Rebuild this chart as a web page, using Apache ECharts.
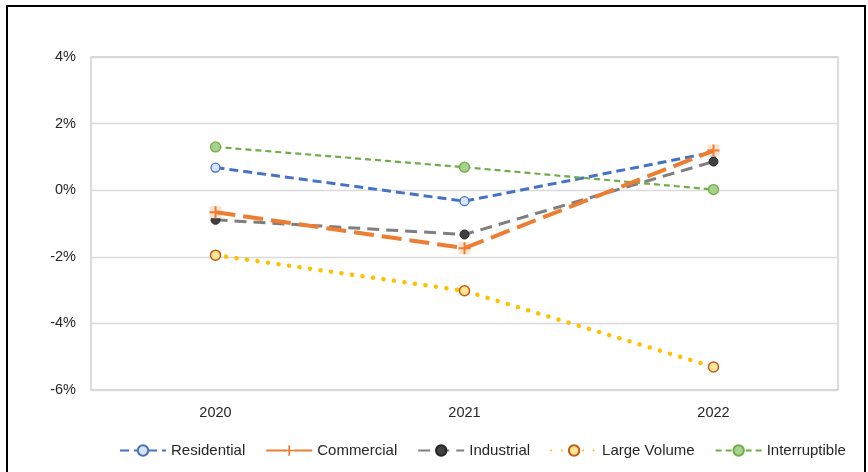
<!DOCTYPE html>
<html>
<head>
<meta charset="utf-8">
<script src="https://cdn.jsdelivr.net/npm/echarts@6/dist/echarts.min.js"></script>
<style>html,body{margin:0;padding:0;background:#fff}#c{width:868px;height:472px}</style>
</head>
<body>
<div id="c"></div>
<script>
var years = ['2020', '2021', '2022'];
var residential = [0.68, -0.33, 1.14];
var commercial = [-0.66, -1.74, 1.19];
var industrial = [-0.89, -1.33, 0.86];
var largeVolume = [-1.95, -3.02, -5.31];
var interruptible = [1.30, 0.69, 0.02];
var yTicks = {min: -6, max: 4, interval: 2};

var plusPath = 'path://M5,0 L7,0 L7,5 L12,5 L12,7 L7,7 L7,12 L5,12 L5,7 L0,7 L0,5 L5,5 Z';

var chart = echarts.init(document.getElementById('c'));
chart.setOption({
  animation: false,
  textStyle: {fontFamily: 'Liberation Sans'},
  graphic: [{
    type: 'rect', shape: {x: 7, y: 6, width: 858, height: 480},
    style: {fill: 'none', stroke: '#000', lineWidth: 2}, silent: true
  }],
  grid: {left: 91, right: 30, top: 57, bottom: 82, show: true, borderColor: '#C8C8C8', borderWidth: 1.3},
  xAxis: {
    type: 'category', data: years, boundaryGap: true,
    axisLine: {show: false}, axisTick: {show: false},
    axisLabel: {color: '#262626', fontSize: 14.5, margin: 15}
  },
  yAxis: {
    type: 'value', min: yTicks.min, max: yTicks.max, interval: yTicks.interval,
    axisLine: {show: false}, axisTick: {show: false},
    axisLabel: {color: '#262626', fontSize: 14.5, margin: 15, formatter: '{value}%'},
    splitLine: {lineStyle: {color: '#D9D9D9', width: 1.3}}
  },
  legend: {
    left: 114, bottom: 9, itemWidth: 46, itemHeight: 13, itemGap: 20,
    textStyle: {color: '#262626', fontSize: 15},
    data: ['Residential', 'Commercial', 'Industrial', 'Large Volume', 'Interruptible']
  },
  series: [
    {name: 'Residential', type: 'line', data: residential, z: 3,
     symbol: 'circle', symbolSize: 9,
     lineStyle: {color: '#4472C4', width: 3, type: [9, 5]},
     itemStyle: {color: '#DAE3F3', borderColor: '#4472C4', borderWidth: 1.3}},
    {name: 'CommercialBg', type: 'line', data: commercial, z: 4,
     symbol: 'rect', symbolSize: 12, silent: true,
     lineStyle: {width: 0, opacity: 0},
     itemStyle: {color: '#FBE2D2', borderWidth: 0}},
    {name: 'Commercial', type: 'line', data: commercial, z: 5,
     symbol: plusPath, symbolSize: 12,
     lineStyle: {color: '#ED7D31', width: 4, type: [20, 8]},
     itemStyle: {color: '#ED7D31', borderWidth: 0}},
    {name: 'Industrial', type: 'line', data: industrial, z: 3,
     symbol: 'circle', symbolSize: 9,
     lineStyle: {color: '#7F7F7F', width: 3, type: [12, 7]},
     itemStyle: {color: '#404040', borderColor: '#262626', borderWidth: 1}},
    {name: 'Large Volume', type: 'line', data: largeVolume, z: 3,
     symbol: 'circle', symbolSize: 10,
     lineStyle: {color: '#FFC000', width: 4.5, type: [0.1, 10.5], cap: 'round'},
     itemStyle: {color: '#FFE699', borderColor: '#C55A11', borderWidth: 1.5}},
    {name: 'Interruptible', type: 'line', data: interruptible, z: 3,
     symbol: 'circle', symbolSize: 10,
     lineStyle: {color: '#70AD47', width: 2.2, type: [6, 4]},
     itemStyle: {color: '#A9D18E', borderColor: '#70AD47', borderWidth: 1.3}}
  ]
});
</script>
</body>
</html>
